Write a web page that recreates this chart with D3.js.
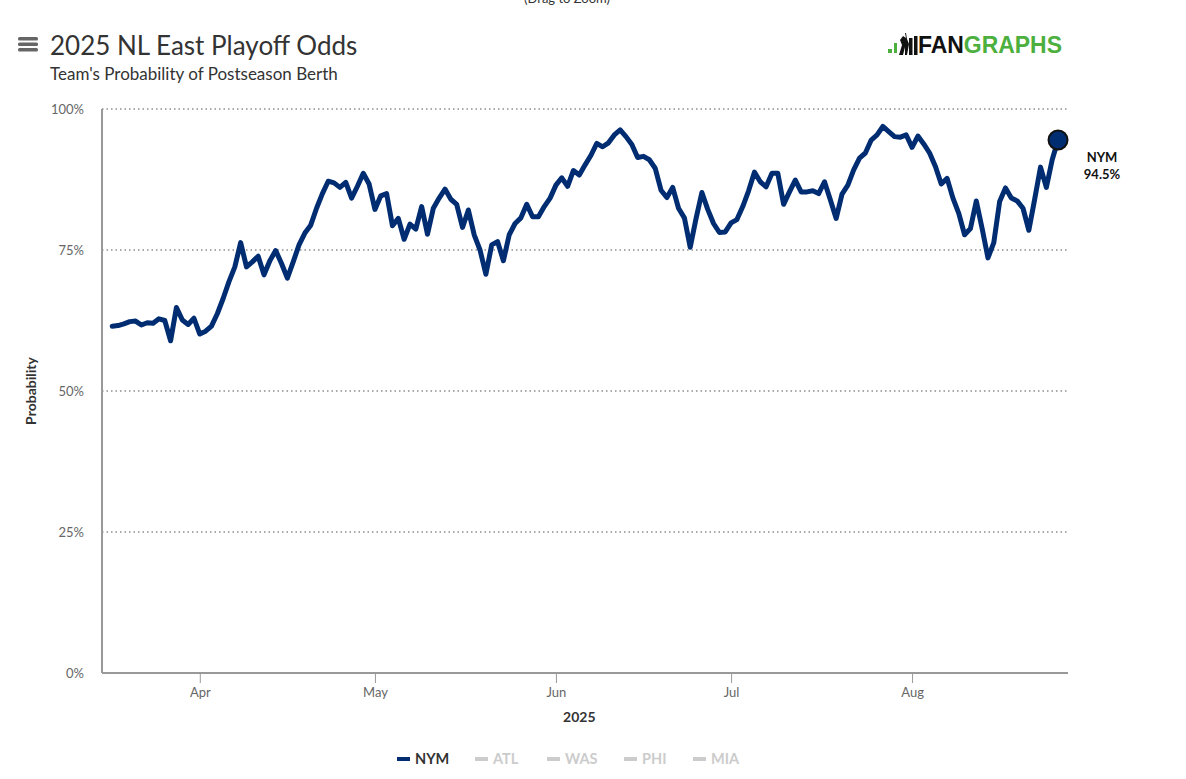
<!DOCTYPE html>
<html>
<head>
<meta charset="utf-8">
<script src="https://cdnjs.cloudflare.com/ajax/libs/d3/7.8.5/d3.min.js"></script>
<style>
  body { margin: 0; background: #fff; }
  svg { display: block; font-family: Lato, "Open Sans", sans-serif; }
</style>
</head>
<body>
<script>
// data
var firstDay = "2025-03-17";
var nymOdds = [
  61.5, 61.6, 61.9, 62.3, 62.4, 61.7, 62.1, 62.0, 62.8, 62.5,
  58.9, 64.8, 62.6, 61.8, 62.9, 60.1, 60.6, 61.5, 63.7, 66.4,
  69.4, 72.0, 76.3, 72.0, 72.9, 73.9, 70.6, 73.1, 74.9, 72.6,
  70.0, 72.9, 75.9, 78.0, 79.4, 82.4, 85.0, 87.2, 86.9, 86.1,
  87.0, 84.2, 86.3, 88.6, 86.7, 82.2, 84.6, 85.0, 79.3, 80.6,
  76.9, 79.6, 78.7, 82.7, 77.8, 82.4, 84.2, 85.8, 84.0, 83.1,
  79.0, 82.1, 77.7, 75.0, 70.7, 75.9, 76.5, 73.1, 77.7, 79.7,
  80.7, 83.1, 80.9, 80.9, 82.7, 84.2, 86.5, 87.8, 86.3, 89.1,
  88.3, 90.1, 91.8, 93.9, 93.3, 94.0, 95.4, 96.3, 95.1, 93.7,
  91.4, 91.6, 91.0, 89.5, 85.6, 84.3, 86.1, 82.4, 80.7, 75.5,
  80.6, 85.2, 82.2, 79.7, 78.1, 78.2, 79.8, 80.4, 82.7, 85.5,
  88.8, 87.1, 86.2, 88.6, 88.6, 83.1, 85.3, 87.4, 85.3, 85.3,
  85.5, 85.0, 87.1, 83.9, 80.6, 84.9, 86.5, 89.2, 91.3, 92.2,
  94.5, 95.4, 96.9, 96.0, 95.1, 95.0, 95.4, 93.2, 95.2, 93.8,
  92.2, 89.8, 86.7, 87.7, 84.2, 81.5, 77.7, 78.8, 83.7, 78.8,
  73.6, 76.3, 83.6, 86.0, 84.2, 83.7, 82.4, 78.5, 84.0, 89.7,
  86.1, 91.0, 94.5
];
var teams = ["NYM", "ATL", "WAS", "PHI", "MIA"];
var monthTicks = ["2025-04-01", "2025-05-01", "2025-06-01", "2025-07-01", "2025-08-01"];
var yTicks = [0, 25, 50, 75, 100];

//Margins
var W = 1186, H = 779;
var margin = {top: 109, right: 118, bottom: 106, left: 102};
var width = W - margin.left - margin.right,
    height = H - margin.top - margin.bottom;

var navy = "#002d72";

var parse = d3.utcParse("%Y-%m-%d");
var start = parse(firstDay);
var series = nymOdds.map(function(v, i){
    return {date: d3.utcDay.offset(start, i), value: v};
});

var svg = d3.select("body").append("svg")
    .attr("width", W)
    .attr("height", H);

// scales
var x = d3.scaleUtc()
    .domain([new Date(Date.UTC(2025, 2, 15, 6)), new Date(Date.UTC(2025, 7, 27, 17))])
    .range([0, width]);
var y = d3.scaleLinear().domain([0, 100]).range([height, 0]);

var g = svg.append("g")
    .attr("transform", "translate(" + margin.left + "," + margin.top + ")");

// dotted grid lines
g.selectAll(".grid").data(yTicks.filter(function(d){ return d > 0; }))
    .enter().append("line")
    .attr("x1", 0).attr("x2", width)
    .attr("y1", function(d){ return y(d); })
    .attr("y2", function(d){ return y(d); })
    .attr("stroke", "#555")
    .attr("stroke-width", 1)
    .attr("stroke-dasharray", "1.5,3");

// y axis
var yAxis = g.append("g")
    .call(d3.axisLeft(y).tickValues(yTicks).tickSize(0).tickPadding(18)
        .tickFormat(function(d){ return d + "%"; }));
yAxis.select(".domain").remove();
yAxis.selectAll("text")
    .attr("fill", "#666").style("font-size", "13px")
    .style("font-family", "Lato, sans-serif");

g.append("line")
    .attr("x1", 0).attr("x2", 0)
    .attr("y1", 0).attr("y2", height)
    .attr("stroke", "#999").attr("stroke-width", 2);

// x axis
var xAxis = g.append("g")
    .attr("transform", "translate(0," + height + ")")
    .call(d3.axisBottom(x).tickValues(monthTicks.map(parse))
        .tickSize(10).tickPadding(5).tickFormat(d3.utcFormat("%b")));
xAxis.select(".domain").attr("stroke", "#999").attr("stroke-width", 2)
    .attr("d", "M0,0H" + width);
xAxis.selectAll(".tick line").attr("stroke", "#999");
xAxis.selectAll("text")
    .attr("fill", "#666").style("font-size", "13px")
    .style("font-family", "Lato, sans-serif");

// axis titles
svg.append("text")
    .attr("x", x(parse("2025-06-05")) + margin.left)
    .attr("y", 722)
    .attr("text-anchor", "middle")
    .style("font-size", "14px").style("font-weight", "bold")
    .attr("fill", "#333")
    .text("2025");

svg.append("text")
    .attr("transform", "translate(36," + (margin.top + y(50)) + ") rotate(-90)")
    .attr("text-anchor", "middle")
    .style("font-size", "14px").style("font-weight", "bold")
    .attr("fill", "#333")
    .text("Probability");

// line
var line = d3.line()
    .x(function(d){ return x(d.date); })
    .y(function(d){ return y(d.value); });

g.append("path")
    .datum(series)
    .attr("fill", "none")
    .attr("stroke", navy)
    .attr("stroke-width", 5)
    .attr("stroke-linejoin", "round")
    .attr("stroke-linecap", "round")
    .attr("d", line);

// end marker + label
var last = series[series.length - 1];
g.append("circle")
    .attr("cx", x(last.date)).attr("cy", y(last.value))
    .attr("r", 9.5)
    .attr("fill", navy)
    .attr("stroke", "#111").attr("stroke-width", 2);

var endLbl = g.append("text")
    .attr("x", x(last.date) + 44)
    .attr("y", y(last.value) + 22)
    .attr("text-anchor", "middle")
    .style("font-size", "13px").style("font-weight", "bold")
    .attr("fill", "#111");
endLbl.append("tspan").text(teams[0]);
endLbl.append("tspan")
    .attr("x", x(last.date) + 44).attr("dy", 17)
    .text(d3.format(".1f")(last.value) + "%");

// title block
svg.append("text")
    .attr("x", 50).attr("y", 55)
    .style("font-size", "26px")
    .attr("fill", "#333")
    .text("2025 NL East Playoff Odds");
svg.append("text")
    .attr("x", 50).attr("y", 80)
    .style("font-size", "17px")
    .attr("fill", "#333")
    .text("Team's Probability of Postseason Berth");
svg.append("text")
    .attr("x", 567).attr("y", 3)
    .attr("text-anchor", "middle")
    .style("font-size", "13px")
    .attr("fill", "#333")
    .text("(Drag to Zoom)");

// hamburger menu
svg.selectAll(".menu").data([0, 1, 2]).enter().append("rect")
    .attr("x", 18).attr("y", function(d){ return 37 + d * 5.5; })
    .attr("width", 20).attr("height", 3.5)
    .attr("rx", 1.5)
    .attr("fill", "#666");

// fangraphs logo
var logo = svg.append("g").attr("transform", "translate(887,0)");
logo.append("rect").attr("x", 1).attr("y", 49).attr("width", 4).attr("height", 4).attr("fill", "#4caf3e");
logo.append("rect").attr("x", 7).attr("y", 43).attr("width", 3).attr("height", 10).attr("fill", "#4caf3e");
logo.append("path")
    .attr("d", "M12,55 L15,45 L13,40 L16,36 L19,38 L18,33 L19,33 L20,39 L22,44 L20,55 L18,55 L18,47 L16,55 Z")
    .attr("fill", "#111");
logo.append("rect").attr("x", 22).attr("y", 38).attr("width", 3.5).attr("height", 17).attr("fill", "#111");
logo.append("rect").attr("x", 27).attr("y", 36).attr("width", 3.5).attr("height", 19).attr("fill", "#111");
var logoTxt = logo.append("text")
    .attr("x", 31).attr("y", 53)
    .attr("textLength", 144)
    .attr("lengthAdjust", "spacingAndGlyphs")
    .style("font-family", "'Liberation Sans', Arial, sans-serif")
    .style("font-size", "23px").style("font-weight", "bold");
logoTxt.append("tspan").attr("fill", "#111").text("FAN");
logoTxt.append("tspan").attr("fill", "#4caf3e").text("GRAPHS");

// legend
var legendX = [397, 475, 547, 624, 693];
var legend = svg.selectAll(".leg").data(teams).enter().append("g")
    .attr("transform", function(d, i){ return "translate(" + legendX[i] + ",759)"; });
legend.append("rect")
    .attr("x", 0).attr("y", -2).attr("width", 13).attr("height", 4)
    .attr("fill", function(d, i){ return i == 0 ? navy : "#ccc"; });
legend.append("text")
    .attr("x", 18).attr("y", 5)
    .style("font-size", "14.5px").style("font-weight", "bold")
    .attr("fill", function(d, i){ return i == 0 ? "#333" : "#ccc"; })
    .text(function(d){ return d; });
</script>
</body>
</html>
